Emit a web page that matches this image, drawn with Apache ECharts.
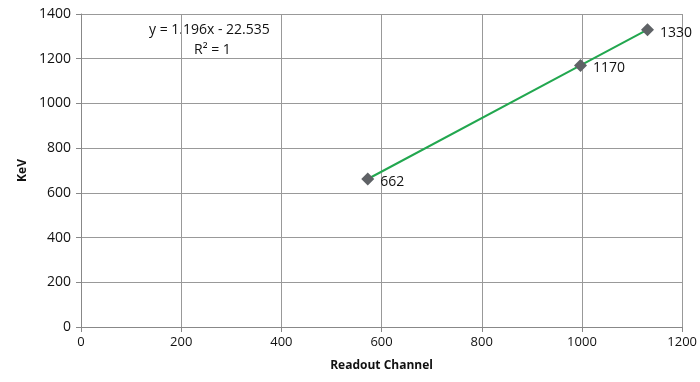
<!DOCTYPE html>
<html><head><meta charset="utf-8">
<script src="https://cdn.jsdelivr.net/npm/echarts@6/dist/echarts.min.js"></script>
<style>html,body{margin:0;padding:0;background:#fff}#c{width:700px;height:382px}</style>
</head><body><div id="c"></div>
<script>
const channels = [572.4, 997.1, 1130.9];
const energies = [662, 1170, 1330];
const pointLabels = ['662', '1170', '1330'];
const xTicks = [0, 200, 400, 600, 800, 1000, 1200];
const yTicks = [0, 200, 400, 600, 800, 1000, 1200, 1400];
const equationText = 'y = 1.196x - 22.535';
const r2Text = 'R² = 1';

const chart = echarts.init(document.getElementById('c'));
const font = 'Open Sans, Liberation Sans, sans-serif';
const data = channels.map((x, i) => [x, energies[i]]);
chart.setOption({
  animation: false,
  grid: {left: 81, right: 17, top: 14, bottom: 55},
  xAxis: {
    type: 'value', min: 0, max: 1200, interval: 200,
    name: 'Readout Channel', nameLocation: 'middle', nameGap: 33,
    nameTextStyle: {fontFamily: font, fontWeight: 'bold', fontSize: 12, color: '#111'},
    axisLine: {show: true, lineStyle: {color: '#888'}},
    axisTick: {show: true, length: 5, lineStyle: {color: '#888'}},
    axisLabel: {fontFamily: font, fontSize: 13, color: '#111', margin: 9,
      formatter: v => String(xTicks[xTicks.indexOf(v)] ?? v)},
    splitLine: {show: true, lineStyle: {color: '#999', width: 1}}
  },
  yAxis: {
    type: 'value', min: 0, max: 1400, interval: 200,
    name: 'KeV', nameLocation: 'middle', nameGap: 52,
    nameTextStyle: {fontFamily: font, fontWeight: 'bold', fontSize: 12, color: '#111'},
    axisLine: {show: true, lineStyle: {color: '#888'}},
    axisTick: {show: true, length: 5, lineStyle: {color: '#888'}},
    axisLabel: {fontFamily: font, fontSize: 14, color: '#111', margin: 10,
      formatter: v => String(yTicks[yTicks.indexOf(v)] ?? v)},
    splitLine: {show: true, lineStyle: {color: '#999', width: 1}}
  },
  graphic: [
    {type: 'text', left: 149, top: 23, style: {text: equationText, font: '14px ' + font, fill: '#111'}},
    {type: 'text', left: 194, top: 43, style: {text: r2Text, font: '14px ' + font, fill: '#111'}}
  ],
  series: [
    {
      type: 'line', data: data, z: 2,
      symbol: 'none',
      lineStyle: {color: '#22a74f', width: 2}
    },
    {
      type: 'scatter', data: data, z: 3,
      symbol: 'diamond', symbolSize: 13,
      itemStyle: {color: '#5f6266', opacity: 1},
      label: {
        show: true, position: 'right', distance: 6,
        formatter: p => pointLabels[p.dataIndex],
        fontFamily: font, fontSize: 14, color: '#111', offset: [0, 3]
      }
    }
  ]
});
</script></body></html>
